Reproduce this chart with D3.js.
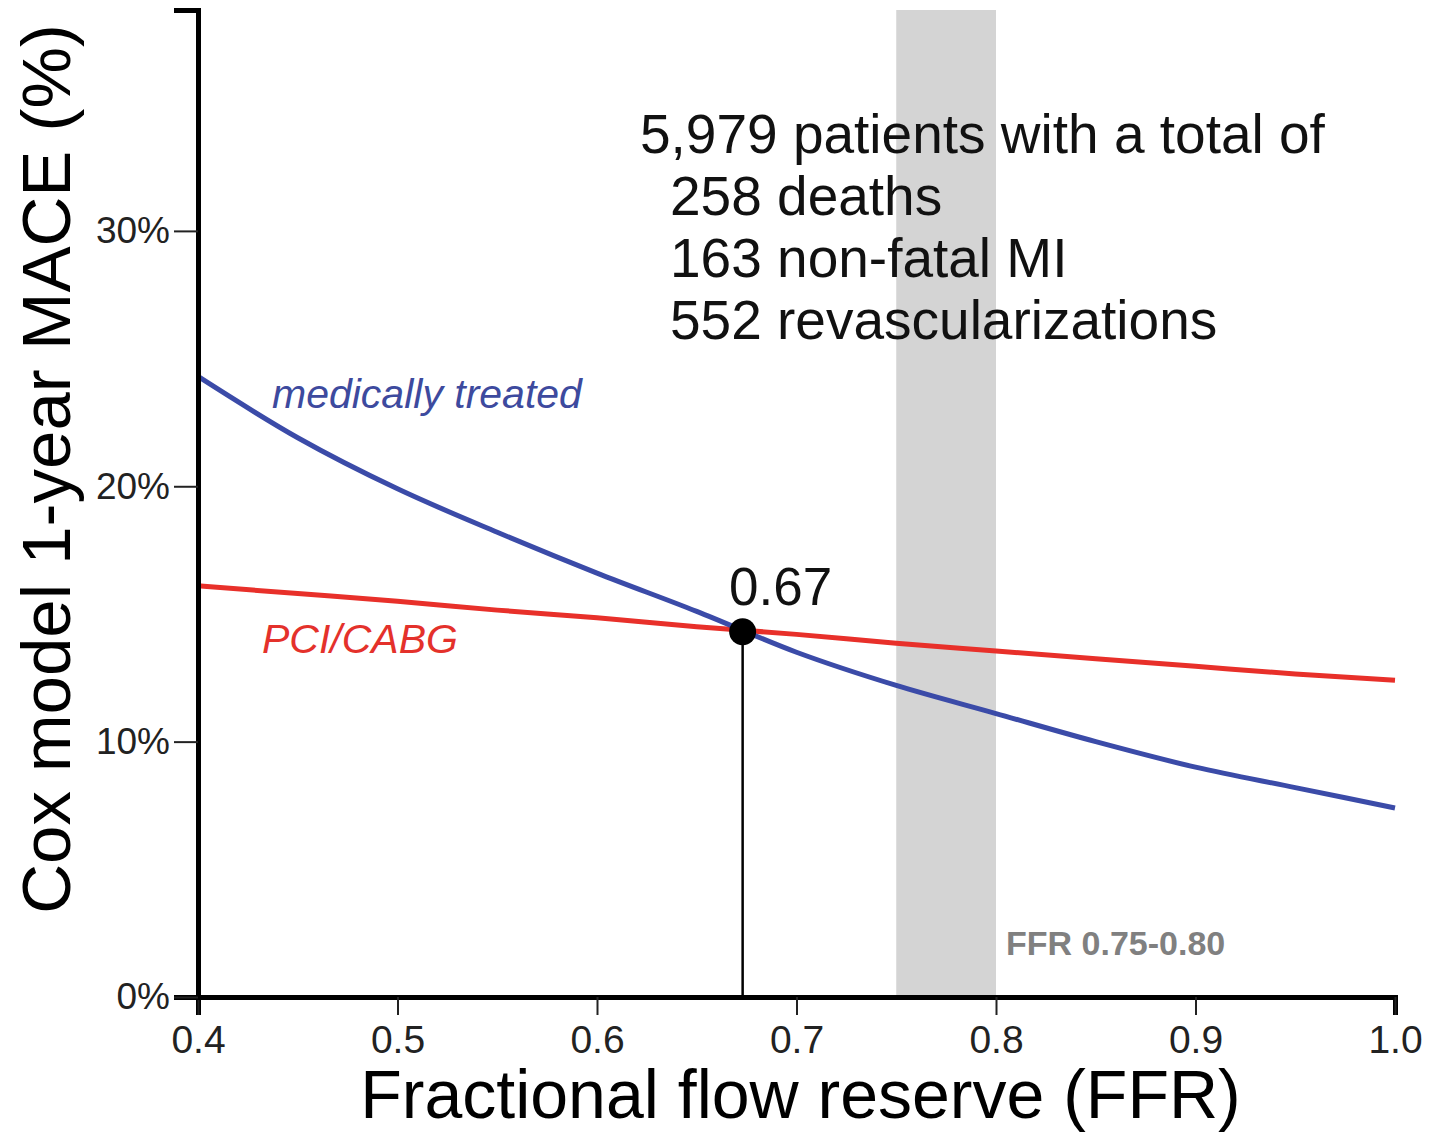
<!DOCTYPE html>
<html lang="en">

<head>
    <script src='https://d3js.org/d3.v7.min.js'></script>
</head>

<body style="margin:0;background:#fff">

    <style>
        svg text {
            font-family: Arial, "Liberation Sans", sans-serif;
        }
    </style>

    <script>
        let ffr = [0.40, 0.45, 0.50, 0.55, 0.60, 0.65, 0.70, 0.75, 0.80, 0.85, 0.90, 0.95, 1.00];
        // Cox model 1-year MACE (%)
        let medical = [24.3, 21.9, 19.9, 18.2, 16.6, 15.1, 13.5, 12.2, 11.1, 10.0, 9.0, 8.2, 7.4];
        let pciCabg = [16.1, 15.8, 15.5, 15.15, 14.85, 14.5, 14.2, 13.85, 13.55, 13.25, 12.95, 12.65, 12.4];

        let xTicks = [0.4, 0.5, 0.6, 0.7, 0.8, 0.9, 1.0];
        let yTicks = [0, 10, 20, 30];
        let crossing = [0.673, 14.3];
        let grayZone = [0.75, 0.80];
        let infoLines = ["5,979 patients with a total of", "258 deaths", "163 non-fatal MI", "552 revascularizations"];

        var width = 1430, height = 1132;

        var svg = d3.select("body").append("svg")
            .attr("width", width)
            .attr("height", height);

        var x = d3.scaleLinear().domain([0.4, 1.0]).range([198, 1395]);
        var y = d3.scaleLinear().domain([0, 38.65]).range([997, 10]);

        // gray zone
        svg.append("rect")
            .attr("x", x(grayZone[0]))
            .attr("y", y(38.65))
            .attr("width", x(grayZone[1]) - x(grayZone[0]))
            .attr("height", y(0) - y(38.65))
            .style("fill", "#d4d4d4");

        svg.append("text")
            .attr("x", x(grayZone[1]) + 10)
            .attr("y", 955)
            .style("font-size", "34px")
            .style("font-weight", "bold")
            .style("fill", "#808080")
            .text("FFR " + grayZone[0].toFixed(2) + "-" + grayZone[1].toFixed(2));

        // info text
        svg.selectAll(".info")
            .data(infoLines)
            .enter()
            .append("text")
            .attr("class", "info")
            .attr("x", function(d, i) { return i == 0 ? 640 : 670; })
            .attr("y", function(d, i) { return 153 + i * 62; })
            .style("font-size", "55px")
            .style("fill", "#111")
            .text(function(d) { return d; });

        // curves
        var line = d3.line()
            .x(function(d) { return x(d[0]); })
            .y(function(d) { return y(d[1]); })
            .curve(d3.curveMonotoneX);

        svg.append("path")
            .datum(ffr.map(function(f, i) { return [f, pciCabg[i]]; }))
            .attr("d", line)
            .style("fill", "none")
            .style("stroke", "#e8302a")
            .style("stroke-width", 5);

        svg.append("path")
            .datum(ffr.map(function(f, i) { return [f, medical[i]]; }))
            .attr("d", line)
            .style("fill", "none")
            .style("stroke", "#3b4ba8")
            .style("stroke-width", 5);

        // curve labels
        svg.append("text")
            .attr("x", 272)
            .attr("y", 408)
            .style("font-size", "41px")
            .style("font-style", "italic")
            .style("fill", "#3d4a9e")
            .text("medically treated");

        svg.append("text")
            .attr("x", 262)
            .attr("y", 653)
            .style("font-size", "41px")
            .style("font-style", "italic")
            .style("fill", "#e4312b")
            .text("PCI/CABG");

        // crossing point
        svg.append("line")
            .attr("x1", x(crossing[0]))
            .attr("x2", x(crossing[0]))
            .attr("y1", y(crossing[1]))
            .attr("y2", y(0))
            .style("stroke", "#000")
            .style("stroke-width", 2.5);

        svg.append("circle")
            .attr("cx", x(crossing[0]))
            .attr("cy", y(crossing[1]))
            .attr("r", 13.5)
            .style("fill", "#000");

        svg.append("text")
            .attr("x", x(crossing[0]) + 38)
            .attr("y", 605)
            .style("font-size", "53px")
            .style("text-anchor", "middle")
            .style("fill", "#111")
            .text(crossing[0].toFixed(2));

        // axes
        var xAxis = svg.append("g")
            .attr("transform", "translate(0," + y(0) + ")")
            .call(d3.axisBottom(x).tickValues(xTicks).tickSize(18).tickPadding(10).tickFormat(d3.format(".1f")));

        var yAxis = svg.append("g")
            .attr("transform", "translate(" + x(0.4) + ",0)")
            .call(d3.axisLeft(y).tickValues(yTicks).tickSize(24).tickPadding(4).tickFormat(function(d) { return d + "%"; }));

        xAxis.select(".domain").style("stroke", "#000").style("stroke-width", 5);
        yAxis.select(".domain").style("stroke", "#000").style("stroke-width", 5);
        svg.selectAll(".tick line").style("stroke", "#222").style("stroke-width", 2);
        xAxis.selectAll(".tick text").style("font-size", "39px").style("fill", "#222").style("font-family", "Arial, 'Liberation Sans', sans-serif");
        yAxis.selectAll(".tick text").style("font-size", "37px").style("fill", "#222").style("font-family", "Arial, 'Liberation Sans', sans-serif");

        // axis titles
        svg.append("text")
            .attr("x", (x(0.4) + x(1.0)) / 2 + 4)
            .attr("y", 1118)
            .style("font-size", "68px")
            .style("text-anchor", "middle")
            .style("fill", "#000")
            .text("Fractional flow reserve (FFR)");

        svg.append("text")
            .attr("transform", "translate(70,469) rotate(-90)")
            .style("font-size", "69px")
            .style("text-anchor", "middle")
            .style("fill", "#000")
            .text("Cox model 1-year MACE (%)");
    </script>
</body>

</html>
